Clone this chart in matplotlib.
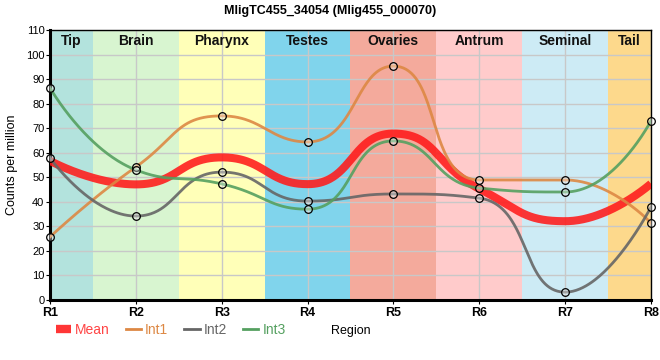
import numpy as np
import matplotlib
matplotlib.use("Agg")
import matplotlib.pyplot as plt
from matplotlib.lines import Line2D

plt.rcParams['font.family'] = ['Liberation Sans', 'DejaVu Sans']

regions = ["R1", "R2", "R3", "R4", "R5", "R6", "R7", "R8"]
mean_vals = [56.7, 47.1, 58.1, 47.2, 67.8, 45.3, 32.1, 47.4]
int1_vals = [25.7, 54.2, 75.0, 64.4, 95.3, 48.9, 48.9, 31.4]
int2_vals = [57.9, 34.2, 52.1, 40.3, 43.2, 41.5, 3.2, 37.9]
int3_vals = [86.4, 53.0, 47.3, 37.0, 64.8, 45.6, 44.0, 73.0]

band_names = ["Tip", "Brain", "Pharynx", "Testes", "Ovaries", "Antrum", "Seminal", "Tail"]
band_edges = [0, 0.5, 1.5, 2.5, 3.5, 4.5, 5.5, 6.5, 7]
band_colors = ["#b3e3dd", "#d8f5d0", "#ffffb8", "#80d4ec", "#f4aa9c", "#ffcbcb", "#cdebf5", "#fdd98c"]


def smooth_curve(ax, vals, smooth=0.5, n=80):
    """Bezier smoothing computed in screen space (segment-length weighted tangents
    with neighbour constraints), then mapped back to data space."""
    pts = ax.transData.transform(np.column_stack([np.arange(len(vals)), vals]))
    m = len(pts)
    out = []
    cp0 = pts[0].copy()
    t = np.linspace(0, 1, n)
    for i in range(1, m):
        x, y = pts[i]
        px, py = pts[i - 1]
        if i == m - 1:
            cp1 = np.array([x, y])
            ncp0 = None
        else:
            nx, ny = pts[i + 1]
            vx, vy = nx - px, ny - py
            lp = np.hypot(x - px, y - py)
            ln = np.hypot(nx - x, ny - y)
            r = ln / (ln + lp)
            ncx = x + vx * smooth * r
            ncy = y + vy * smooth * r
            ncx = min(ncx, max(nx, x)); ncy = min(ncy, max(ny, y))
            ncx = max(ncx, min(nx, x)); ncy = max(ncy, min(ny, y))
            vx, vy = ncx - x, ncy - y
            c1x = x - vx * lp / ln
            c1y = y - vy * lp / ln
            c1x = min(c1x, max(px, x)); c1y = min(c1y, max(py, y))
            c1x = max(c1x, min(px, x)); c1y = max(c1y, min(py, y))
            vx, vy = x - c1x, y - c1y
            ncp0 = np.array([x + vx * ln / lp, y + vy * ln / lp])
            cp1 = np.array([c1x, c1y])
        p0 = pts[i - 1]
        p3 = pts[i]
        b = ((1 - t) ** 3)[:, None] * p0 + (3 * t * (1 - t) ** 2)[:, None] * cp0 \
            + (3 * t ** 2 * (1 - t))[:, None] * cp1 + (t ** 3)[:, None] * p3
        out.append(b)
        cp0 = ncp0
    disp = np.vstack(out)
    data = ax.transData.inverted().transform(disp)
    return data[:, 0], data[:, 1]


fig = plt.figure(figsize=(6.6, 3.6), dpi=100)
ax = fig.add_axes([50 / 660, 60 / 360, 601 / 660, 270 / 360])

for i, name in enumerate(band_names):
    ax.axvspan(band_edges[i], band_edges[i + 1], color=band_colors[i], zorder=0, lw=0)
    ax.text((band_edges[i] + band_edges[i + 1]) / 2, 105.6, name, ha='center', va='center',
            fontsize=10, fontweight='bold', color='#111111', zorder=5)

ax.set_xlim(0, 7)
ax.set_ylim(0, 110)
ax.set_yticks(np.arange(0, 111, 10))
ax.set_xticks(range(len(regions)))
ax.set_xticklabels(regions, fontweight='bold', fontsize=9)
ax.tick_params(axis='y', labelsize=8, length=3, pad=1)
ax.tick_params(axis='x', length=3, pad=2)
ax.grid(True, color='#c8c8c8', lw=1, zorder=1)
ax.set_axisbelow(True)

for sp in ['left', 'bottom']:
    ax.spines[sp].set_linewidth(2.2)
for sp in ['top', 'right']:
    ax.spines[sp].set_linewidth(1.0)

cx, cy = smooth_curve(ax, mean_vals)
ax.plot(cx, cy, color='#ff1a1a', lw=5.8, alpha=0.88, zorder=3, solid_capstyle='butt')

series = [(int1_vals, '#dd8844'), (int2_vals, '#666666'), (int3_vals, '#55a060')]
for vals, col in series:
    cx, cy = smooth_curve(ax, vals)
    ax.plot(cx, cy, color=col, lw=2.0, alpha=0.9, zorder=4)
for vals, col in series:
    ax.plot(range(len(vals)), vals, ls='none', marker='o', ms=5.5, mfc=(1, 1, 1, 0.35),
            mec='black', mew=0.9, zorder=6, clip_on=False)

ax.set_ylabel("Counts per million", fontsize=9, labelpad=6)
fig.suptitle("MligTC455_34054 (Mlig455_000070)", fontsize=9, fontweight='bold', y=0.985)

handles = [Line2D([], [], color='#ff1a1a', lw=6, alpha=0.88, solid_capstyle='butt'),
           Line2D([], [], color='#dd8844', lw=2),
           Line2D([], [], color='#666666', lw=2),
           Line2D([], [], color='#55a060', lw=2)]
labels = ["Mean", "Int1", "Int2", "Int3"]
leg = fig.legend(handles, labels, loc='center left', bbox_to_anchor=(50 / 660, 1 - 330 / 360),
                 ncol=4, frameon=False, fontsize=10, handlelength=1.1, handletextpad=0.3,
                 columnspacing=1.15, borderaxespad=0)
for txt, col in zip(leg.get_texts(), ['#ff4444', '#dd8844', '#666666', '#55a060']):
    txt.set_color(col)
fig.text(331 / 660, 1 - 331 / 360, "Region", fontsize=9, ha='left', va='center')

fig.savefig("out.png", dpi=100)
